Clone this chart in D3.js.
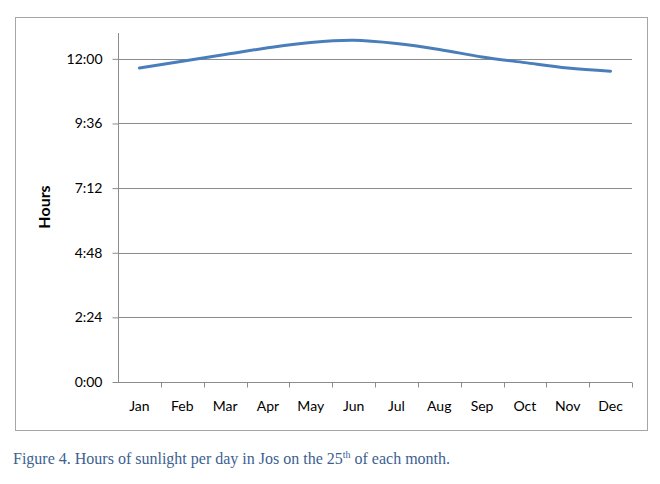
<!DOCTYPE html>
<html>
<head>
<meta charset="utf-8">
<script src="https://cdn.jsdelivr.net/npm/d3@7"></script>
<style>
  body { margin: 0; background: #fff; }
  .tick text { font-family: Lato, "Open Sans", sans-serif; font-size: 14px; fill: #000; }
</style>
</head>
<body>
<svg width="660" height="484"></svg>
<script>
var months = ['Jan', 'Feb', 'Mar', 'Apr', 'May', 'Jun', 'Jul', 'Aug', 'Sep', 'Oct', 'Nov', 'Dec'];
// hours of sunlight on the 25th (decimal hours)
var hours = [11.66, 11.91, 12.16, 12.41, 12.61, 12.69, 12.57, 12.35, 12.07, 11.86, 11.66, 11.54];
var yTicks = [0, 2.4, 4.8, 7.2, 9.6, 12];
var yTickLabels = ['0:00', '2:24', '4:48', '7:12', '9:36', '12:00'];
var yMax = 12.96;

var plotLeft = 118, plotRight = 632, plotTop = 33, plotBottom = 382;
var svg = d3.select('svg');

// chart frame
svg.append('rect')
  .attr('x', 15.5).attr('y', 17.5)
  .attr('width', 632).attr('height', 413)
  .attr('fill', 'none').attr('stroke', '#a6a6a6');

var x = d3.scaleBand().domain(months).range([plotLeft, plotRight]);
var y = d3.scaleLinear().domain([0, yMax]).range([plotBottom, plotTop]);

// gridlines
svg.append('g').selectAll('line')
  .data(yTicks.slice(1))
  .enter().append('line')
  .attr('x1', plotLeft).attr('x2', plotRight)
  .attr('y1', function(d){ return Math.round(y(d)) + 0.5; })
  .attr('y2', function(d){ return Math.round(y(d)) + 0.5; })
  .attr('stroke', '#8c8c8c');

// y axis
var yAxis = svg.append('g')
  .attr('transform', 'translate(' + (plotLeft + 0.5) + ',0)')
  .call(d3.axisLeft(y).tickValues(yTicks).tickSize(6).tickPadding(10)
    .tickFormat(function(d, i){ return yTickLabels[i]; }));
yAxis.select('.domain').attr('stroke', '#8c8c8c').attr('d', 'M0,' + plotTop + 'V' + plotBottom);
yAxis.selectAll('.tick line').attr('stroke', '#8c8c8c');

// x axis with ticks between categories
var xAxis = svg.append('g')
  .attr('transform', 'translate(0,' + (plotBottom + 0.5) + ')');
xAxis.append('line')
  .attr('x1', plotLeft).attr('x2', plotRight)
  .attr('stroke', '#8c8c8c');
xAxis.selectAll('.sep')
  .data(months)
  .enter().append('line')
  .attr('x1', function(d){ return Math.round(x(d) + x.bandwidth()) + 0.5; })
  .attr('x2', function(d){ return Math.round(x(d) + x.bandwidth()) + 0.5; })
  .attr('y1', 0).attr('y2', 5)
  .attr('stroke', '#8c8c8c');
xAxis.selectAll('text')
  .data(months)
  .enter().append('text')
  .attr('x', function(d){ return x(d) + x.bandwidth() / 2; })
  .attr('y', 28)
  .attr('text-anchor', 'middle')
  .style('font-family', 'Lato, "Open Sans", sans-serif')
  .style('font-size', '14px')
  .text(function(d){ return d; });

// axis title
svg.append('text')
  .attr('transform', 'translate(50,207) rotate(-90)')
  .attr('text-anchor', 'middle')
  .style('font-family', 'Lato, "Open Sans", sans-serif')
  .style('font-size', '16px')
  .style('font-weight', 'bold')
  .text('Hours');

// line
var line = d3.line()
  .x(function(d, i){ return x(months[i]) + x.bandwidth() / 2; })
  .y(function(d){ return y(d); })
  .curve(d3.curveCatmullRom.alpha(0.5));

svg.append('path')
  .datum(hours)
  .attr('d', line)
  .attr('fill', 'none')
  .attr('stroke', '#4a7ebb')
  .attr('stroke-width', 3)
  .attr('stroke-linecap', 'round');

// caption
var cap = svg.append('text')
  .attr('x', 13).attr('y', 464)
  .style('font-family', '"Liberation Serif", "Times New Roman", serif')
  .style('font-size', '16px')
  .attr('fill', '#3d5f91');
cap.append('tspan').text('Figure 4. Hours of sunlight per day in Jos on the 25');
cap.append('tspan').attr('dy', -6).style('font-size', '10px').text('th');
cap.append('tspan').attr('dy', 6).text(' of each month.');
</script>
</body>
</html>
